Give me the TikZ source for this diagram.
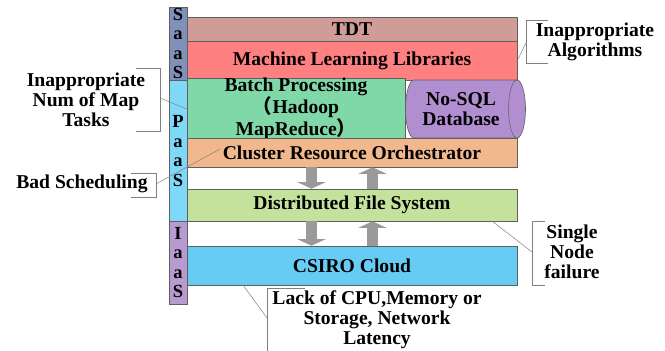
\documentclass[tikz,border=0pt]{standalone}
\usepackage{fontspec}
\setmainfont{Liberation Serif}
\newfontfamily\cjk{Noto Sans CJK SC}
\usetikzlibrary{arrows.meta, positioning}
\definecolor{SaasBlue}{HTML}{8090B8}
\definecolor{PaasBlue}{HTML}{80D8F8}
\definecolor{IaasPurple}{HTML}{B89AD0}
\definecolor{TdtRose}{HTML}{D09C98}
\definecolor{MlRed}{HTML}{FF8080}
\definecolor{BatchGreen}{HTML}{80D8A8}
\definecolor{NosqlPurple}{HTML}{B08ED0}
\definecolor{ClusterOrange}{HTML}{F0B88C}
\definecolor{DfsGreen}{HTML}{C4E29C}
\definecolor{CloudBlue}{HTML}{66CCF4}
\definecolor{BoxEdge}{HTML}{606060}
\definecolor{NoteGray}{HTML}{808080}
\definecolor{ArrowGray}{HTML}{9A9A9A}

\begin{document}
\begin{tikzpicture}[x=1pt, y=-1pt,
  layer_box/.style={rectangle, draw=BoxEdge, line width=0.6pt, minimum width=330pt,
    inner sep=0pt, align=center, font=\bfseries\fontsize{19.6}{20}\selectfont},
  bar_box/.style={rectangle, draw=BoxEdge, line width=0.6pt, minimum width=18pt,
    inner sep=0pt, align=center, font=\bfseries\fontsize{18.5}{19.5}\selectfont},
  note_text/.style={inner sep=0pt, align=center, font=\bfseries\fontsize{19.6}{20}\selectfont},
  bracket_line/.style={draw=NoteGray, line width=0.6pt},
  lead_line/.style={draw=NoteGray, line width=0.5pt},
  block_arrow/.style={-{Triangle[width=28pt, length=6.5pt]}, line width=11pt, draw=ArrowGray}
]
  \useasboundingbox (0,0) rectangle (665,351);

  % service levels
  \node[bar_box, fill=SaasBlue, minimum height=73pt] (saas) at (178,43.5) {S\\a\\a\\S};
  \node[bar_box, fill=PaasBlue, minimum height=142pt] (paas) at (178,151) {P\\a\\a\\S};
  \node[bar_box, fill=IaasPurple, minimum height=83pt] (iaas) at (178,262.5) {I\\a\\a\\S};

  % layers
  \node[layer_box, fill=TdtRose, minimum height=24pt] (tdt) at (352,29) {TDT};
  \node[layer_box, fill=MlRed, minimum height=39pt] (mll) at (352,60.5) {Machine Learning Libraries};
  \node[layer_box, fill=BatchGreen, minimum width=218pt, minimum height=58pt] (batch) at (296,109)
    {Batch Processing\\{\cjk （}Hadoop\\MapReduce{\cjk ）}};
  \filldraw[fill=NosqlPurple, draw=BoxEdge, line width=0.6pt]
    (414,80) -- (517,80) arc (-90:90:8.5 and 29) -- (414,138) arc (90:270:8.5 and 29) -- cycle;
  \draw[draw=BoxEdge, line width=0.5pt] (517,80) arc (270:90:8.5 and 29);
  \node[note_text] (nosql) at (461,109) {No-SQL\\Database};
  \node[layer_box, fill=ClusterOrange, minimum height=29pt] (cluster) at (352,152.5) {Cluster Resource Orchestrator};
  \node[layer_box, fill=DfsGreen, minimum height=32pt] (dfs) at (352,205) {Distributed File System};
  \node[layer_box, fill=CloudBlue, minimum height=39pt] (csiro) at (352,265.5) {CSIRO Cloud};

  % data flow
  \coordinate (down_x) at (311.5,0);
  \coordinate (up_x) at (372.5,0);
  \draw[block_arrow] (down_x |- cluster.south) -- (down_x |- dfs.north);
  \draw[block_arrow] (up_x |- dfs.north) -- (up_x |- cluster.south);
  \draw[block_arrow] (down_x |- dfs.south) -- (down_x |- csiro.north);
  \draw[block_arrow] (up_x |- csiro.north) -- (up_x |- dfs.south);

  % problems
  \node[note_text] (algo) at (595,42) {Inappropriate\\Algorithms};
  \node[note_text] (maptasks) at (86,100) {Inappropriate\\Num of Map\\Tasks};
  \node[note_text] (sched) at (82,184) {Bad Scheduling};
  \node[note_text] (single) at (572,252) {Single\\Node\\failure};
  \node[note_text] (lack) at (377,320) {Lack of CPU,Memory or\\Storage, Network\\Latency};

  \draw[bracket_line] (548,20) -- (526,20) -- (526,63) -- (548,63);
  \draw[bracket_line] (136,68) -- (160,68) -- (160,131) -- (136,131);
  \draw[bracket_line] (131,173) -- (156,173) -- (156,197) -- (131,197);
  \draw[bracket_line] (545,221) -- (532,221) -- (532,285) -- (545,285);
  \draw[bracket_line] (305,288) -- (267,288) -- (267,352);

  \coordinate (algo_tip) at (526,43);
  \coordinate (map_tip) at (160,98);
  \coordinate (sched_tip) at (156,184);
  \coordinate (sched_end) at (220,149);
  \coordinate (single_tip) at (532,252);
  \coordinate (single_end) at (492,221);
  \coordinate (lack_tip) at (267,318);
  \coordinate (lack_end) at (243,285);
  \draw[lead_line] (algo_tip) -- (mll.east);
  \draw[lead_line] (map_tip) -- (batch.west);
  \draw[lead_line] (sched_tip) -- (sched_end);
  \draw[lead_line] (single_tip) -- (single_end);
  \draw[lead_line] (lack_tip) -- (lack_end);
\end{tikzpicture}
\end{document}
